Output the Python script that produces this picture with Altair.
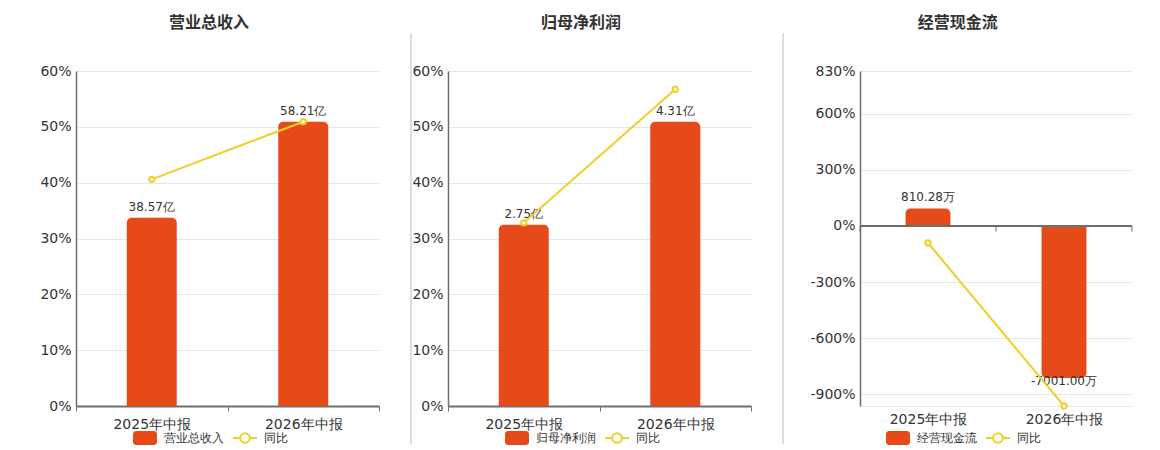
import altair as alt
import pandas as pd

periods = ["2025年中报", "2026年中报"]

titles = ["营业总收入", "归母净利润", "经营现金流"]
bar_values = [[38.57, 58.21], [2.75, 4.31], [810.28, -7001.00]]
bar_labels = [["38.57亿", "58.21亿"], ["2.75亿", "4.31亿"], ["810.28万", "-7001.00万"]]
yoy_values = [[40.6, 50.92], [32.8, 56.73], [-91.0, -964.0]]

pct_domains = [[0, 60], [0, 60], [-964, 830]]
pct_ticks = [[0, 10, 20, 30, 40, 50, 60], [0, 10, 20, 30, 40, 50, 60],
             [-900, -600, -300, 0, 300, 600, 830]]
bar_domains = [[0, 68.6], [0, 5.08], [-8290, 7138]]

BAR = "#E64A19"
LINE = "#F0CF28"
AXIS = "#6E6E6E"
GRID = "#E6E6E6"
TXT = "#333333"
FONT = "DejaVu Sans"

W = [303, 303, 272]
H = 335
legend_x = [56, 56, 25]
sep_x = [-37, -37, -77]
sep_col = ["#FFFFFF", "#BBBBBB", "#BBBBBB"]

RECT = ("M-0.75,-0.58 L0.75,-0.58 A0.25,0.25 0 0 1 1,-0.33 L1,0.33 "
        "A0.25,0.25 0 0 1 0.75,0.58 L-0.75,0.58 A0.25,0.25 0 0 1 -1,0.33 "
        "L-1,-0.33 A0.25,0.25 0 0 1 -0.75,-0.58 Z")
LSYM = ("M-1,0 L-0.4,0 M0.4,0 L1,0 M0.4,0 A0.4,0.4 0 1 1 -0.4,0 "
        "A0.4,0.4 0 1 1 0.4,0 Z")


def panel(i):
    name = titles[i]
    df = pd.DataFrame({
        "period": periods,
        "v": bar_values[i],
        "label": bar_labels[i],
        "yoy": yoy_values[i],
    })
    neg_panel = pct_domains[i][0] < 0
    base = alt.Chart(df)
    xscale = alt.Scale(domain=periods, paddingInner=0, paddingOuter=0)
    x_lab = alt.X("period:N", scale=xscale, sort=periods, title=None,
                  axis=alt.Axis(labelAngle=0, labelFontSize=14, labelColor=TXT,
                                labelFont=FONT, labelPadding=6,
                                domain=True, domainColor=GRID if neg_panel else AXIS,
                                domainWidth=1 if neg_panel else 2,
                                ticks=not neg_panel, tickBand="extent",
                                tickColor=AXIS, tickSize=5, tickWidth=1,
                                grid=False))

    yb = alt.Y("v:Q", scale=alt.Scale(domain=bar_domains[i], nice=False, zero=True),
               axis=None)
    common_leg = dict(orient="none", legendY=H + 19, direction="horizontal",
                      title=None, symbolSize=576, labelFontSize=12,
                      labelColor=TXT, labelFont=FONT, labelOffset=6,
                      symbolStrokeWidth=2)
    color = alt.Color(
        "s:N",
        scale=alt.Scale(domain=[name], range=[BAR]),
        legend=alt.Legend(legendX=legend_x[i], symbolType=RECT,
                          symbolOpacity=1, **common_leg),
    )
    stroke = alt.Stroke(
        "s2:N",
        scale=alt.Scale(domain=["同比"], range=[LINE]),
        legend=alt.Legend(legendX=legend_x[i] + 100, symbolType=LSYM,
                          symbolFillColor="#ffffff", **common_leg),
    )

    bars_pos = base.transform_filter("datum.v >= 0").transform_calculate(
        s=f"'{name}'").mark_bar(
        width=alt.RelativeBandSize(0.33),
        cornerRadiusTopLeft=5, cornerRadiusTopRight=5,
    ).encode(x=x_lab, y=yb, y2=alt.datum(0), color=color)
    bars_neg = base.transform_filter("datum.v < 0").mark_bar(
        width=alt.RelativeBandSize(0.33),
        cornerRadiusBottomLeft=5, cornerRadiusBottomRight=5, color=BAR,
    ).encode(x=x_lab, y=yb, y2=alt.datum(0))
    text_pos = base.transform_filter("datum.v >= 0").mark_text(
        baseline="bottom", dy=-4, fontSize=12, color=TXT, font=FONT,
    ).encode(x=x_lab, y=yb, text="label:N")
    text_neg = base.transform_filter("datum.v < 0").mark_text(
        baseline="top", dy=-2, fontSize=12, color=TXT, font=FONT,
    ).encode(x=x_lab, y=yb, text="label:N")
    bar_layer = alt.layer(bars_pos, bars_neg, text_pos, text_neg)

    yp_scale = alt.Scale(domain=pct_domains[i], nice=False, zero=False)
    yp = alt.Y("yoy:Q", scale=yp_scale, title=None,
               axis=alt.Axis(values=pct_ticks[i], labelExpr="datum.value + '%'",
                             labelFontSize=14, labelColor=TXT, labelFont=FONT,
                             labelPadding=5, ticks=False, domain=True,
                             domainColor=AXIS, domainWidth=1.5,
                             grid=True, gridColor=GRID, gridWidth=1))
    line = base.transform_calculate(s2="'同比'").mark_line(strokeWidth=2).encode(
        x=x_lab, y=yp, stroke=stroke)
    pts = base.mark_point(size=28, filled=True, fill="white", stroke=LINE,
                          strokeWidth=2, opacity=1).encode(x=x_lab, y=yp)
    line_layers = [line, pts]
    if neg_panel:
        zdf = pd.DataFrame({"yoy": [0, 0], "period": periods})
        zero = alt.Chart(zdf.iloc[:1]).mark_rule(
            color=AXIS, strokeWidth=2).encode(y=yp)
        xt0 = alt.X("period:N", scale=xscale, sort=periods, title=None,
                    bandPosition=0)
        xt1 = alt.X("period:N", scale=xscale, sort=periods, title=None,
                    bandPosition=1)
        ticks0 = alt.Chart(zdf).mark_tick(
            orient="vertical", size=5, yOffset=3, color=AXIS, thickness=1,
            opacity=1).encode(x=xt0, y=yp)
        ticks1 = alt.Chart(zdf.iloc[1:]).mark_tick(
            orient="vertical", size=5, yOffset=3, color=AXIS, thickness=1,
            opacity=1).encode(x=xt1, y=yp)
        line_layers = [zero, ticks0, ticks1] + line_layers
    line_layer = alt.layer(*line_layers)

    sep = alt.Chart(pd.DataFrame({"a": [0]})).mark_rule(
        color=sep_col[i], strokeWidth=1).encode(
        x=alt.value(sep_x[i]), y=alt.value(-38), y2=alt.value(H + 38))

    ch = alt.layer(sep, bar_layer, line_layer).resolve_scale(y="independent").properties(
        width=W[i], height=H,
        title=alt.TitleParams(name, fontSize=16, fontWeight="bold", color=TXT,
                              font="Noto Sans CJK SC", anchor="middle",
                              frame="bounds", offset=2),
    )
    return ch


chart = alt.hconcat(panel(0), panel(1), panel(2), spacing=30).resolve_scale(
    color="independent", stroke="independent", x="independent"
).resolve_legend(color="independent", stroke="independent").configure_view(
    stroke=None
).properties(padding={"left": 30, "top": 6, "right": 5, "bottom": 5})

chart.save("out.html", embed_options={"renderer": "svg", "actions": False})
